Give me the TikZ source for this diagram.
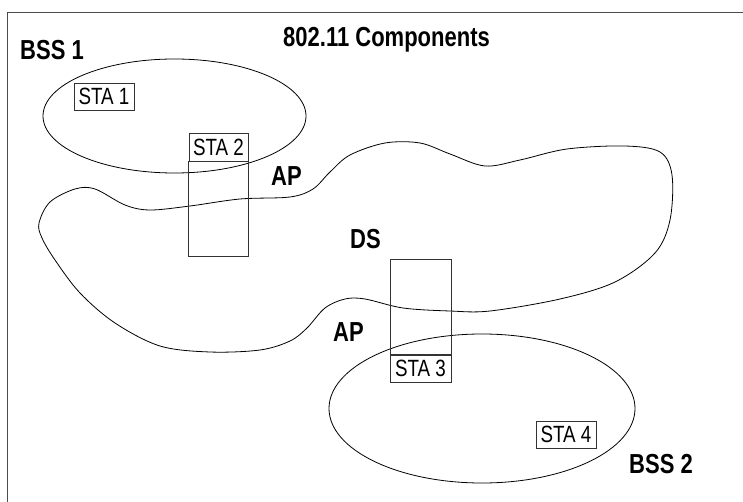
\documentclass[tikz,border=0pt]{standalone}
\usepackage{fontspec}
\usepackage{tikz}
\usetikzlibrary{shapes.geometric}
\newfontfamily\narrowsans{Liberation Sans}[FakeStretch=0.8]

\tikzset{
  lbl/.style={inner sep=0pt, anchor=base west, font=\narrowsans\bfseries\fontsize{27.5}{31}\selectfont},
  sta/.style={draw=black!80, line width=0.9pt, inner sep=0pt, minimum width=60pt, minimum height=27pt, font=\narrowsans\fontsize{23.5}{26}\selectfont},
  bss/.style={ellipse, draw, line width=0.8pt, inner sep=0pt}
}

\begin{document}
\begin{tikzpicture}[x=1pt,y=-1pt]
\useasboundingbox (0,0) rectangle (743,502);
\draw[black!70, line width=0.9pt] (7,502) -- (7,12) -- (743,12);

% labels
\node[lbl] (title) at (283,47) {802.11 Components};
\node[lbl] (bss1lbl) at (20,60) {BSS 1};
\node[lbl] (ap1lbl) at (271,186) {AP};
\node[lbl] (dslbl) at (350,249) {DS};
\node[lbl] (ap2lbl) at (333,341) {AP};
\node[lbl] (bss2lbl) at (629,473) {BSS 2};

% the two BSS ellipses
\node[bss, minimum width=263pt, minimum height=114pt] (bss1) at (174.5,116) {};
\node[bss, minimum width=306pt, minimum height=149pt] (bss2) at (482,408.5) {};

% distribution system
\draw[line width=0.8pt] plot[smooth cycle, tension=0.55] coordinates {
  (39,223) (50,202) (75,189) (95,189) (125,205) (150,210) (190,206)
  (240,199) (290,197) (313,189) (330,172) (350,155) (385,143) (420,143)
  (450,154) (485,166) (520,160) (567,149) (625,146) (660,152) (672,175)
  (670,220) (655,253) (615,282) (560,299) (490,311) (450,311) (403,308)
  (365,299) (345,299) (325,308) (307,328) (290,341) (260,350) (210,352)
  (160,346) (115,323) (80,293) (55,260) (42,238)};

% stations
\node[sta] (sta1) at (104,96.5) {STA 1};
\node[sta, minimum width=59pt, minimum height=28pt] (sta2) at (218.5,147) {STA 2};
\node[sta, minimum width=61pt] (sta3) at (420.5,368.5) {STA 3};
\node[sta] (sta4) at (566,434.5) {STA 4};

% access points
\coordinate (ap1end) at (248,256);
\coordinate (ap2top) at (390,259);
\draw[black!80, line width=0.9pt] (sta2.south west) rectangle (ap1end);
\draw[black!80, line width=0.9pt] (sta3.north east) rectangle (ap2top);
\end{tikzpicture}
\end{document}
